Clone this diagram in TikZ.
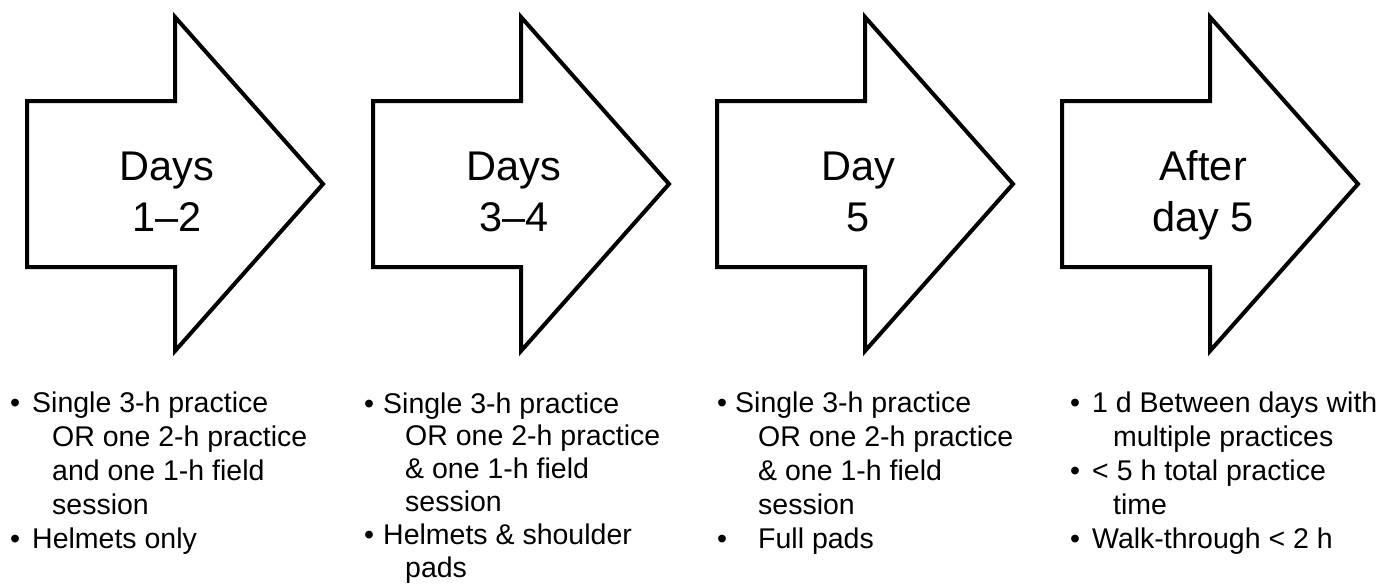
\documentclass[tikz,border=0pt]{standalone}
\usepackage{fontspec}
\setmainfont{Liberation Sans}
\newcommand\bl[1]{\makebox[#1][l]{•}}
\newcommand\ind[1]{\hspace*{#1}}
\begin{document}
\begin{tikzpicture}[x=1pt,y=-1pt,
  arr/.style={draw=black, line width=4pt, line join=miter, fill=white},
  title/.style={inner sep=0pt, align=center, font=\fontsize{41.5}{51}\selectfont, anchor=base},
  blist/.style={inner sep=0pt, align=left, font=\fontsize{28.5}{33.8}\selectfont, anchor=base west}]
\useasboundingbox (0,0) rectangle (1385,584);
\foreach \x in {27,373,717,1062}
  \draw[arr] (\x,101) -- (\x+148,101) -- (\x+148,17) -- (\x+296,184) -- (\x+148,351) -- (\x+148,267) -- (\x,267) -- cycle;
\node[title] (t1) at (167,231) {Days\\1–2};
\node[title] (t2) at (514,231) {Days\\3–4};
\node[title] (t3) at (858,231) {Day\\5};
\node[title] (t4) at (1203,231) {After\\day 5};
\node[blist] (l1) at (10,548) {\bl{22pt}Single 3-h practice\\\ind{42pt}OR one 2-h practice\\\ind{42pt}and one 1-h field\\\ind{42pt}session\\\bl{22pt}Helmets only};
\node[blist, font=\fontsize{28.5}{32.8}\selectfont] (l2) at (364,577) {\bl{19pt}Single 3-h practice\\\ind{41pt}OR one 2-h practice\\\ind{41pt}\& one 1-h field\\\ind{41pt}session\\\bl{19pt}Helmets \& shoulder\\\ind{41pt}pads};
\node[blist] (l3) at (717,548) {\bl{18pt}Single 3-h practice\\\ind{41pt}OR one 2-h practice\\\ind{41pt}\& one 1-h field\\\ind{41pt}session\\\bl{41pt}Full pads};
\node[blist] (l4) at (1070,548) {\bl{22pt}1 d Between days with\\\ind{43pt}multiple practices\\\bl{22pt}< 5 h total practice\\\ind{43pt}time\\\bl{22pt}Walk-through < 2 h};
\end{tikzpicture}
\end{document}
